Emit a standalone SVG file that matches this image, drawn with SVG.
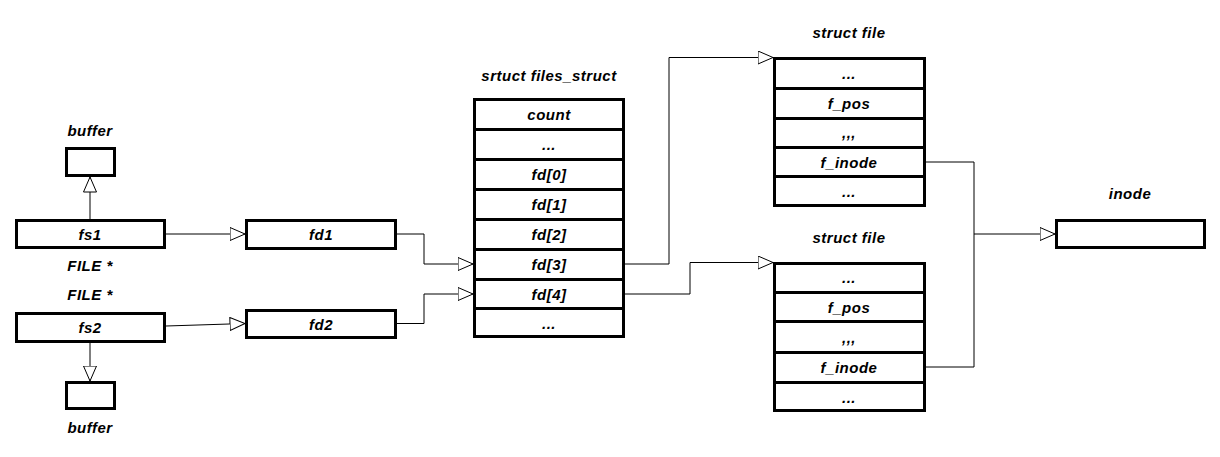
<svg xmlns="http://www.w3.org/2000/svg" width="1220" height="457" viewBox="0 0 1220 457">
<style>
.box{fill:#fff;stroke:#000;stroke-width:3}
.sep{stroke:#000;stroke-width:3}
.t{font-family:"Liberation Sans",Arial,sans-serif;font-size:15px;letter-spacing:0.5px;font-weight:bold;font-style:italic;text-anchor:middle;fill:#000}
.c{fill:none;stroke:#000;stroke-width:1;marker-end:url(#arr)}
</style>
<defs>
<marker id="arr" markerUnits="userSpaceOnUse" markerWidth="17" markerHeight="15" refX="15.5" refY="7" orient="auto">
<path d="M0.5,0.5 L15.5,7 L0.5,13.5 Z" fill="#fff" stroke="#000" stroke-width="1"/>
</marker>
</defs>
<rect width="1220" height="457" fill="#fff"/>
<g id="connectors">
<path class="c" d="M90,219 V177"/>
<path class="c" d="M90,343 V381"/>
<path class="c" d="M166,234 H245"/>
<path class="c" d="M166,326 L245,323.5"/>
<path class="c" d="M397,234 H424 V264 H473"/>
<path class="c" d="M397,323.5 H424 V294 H473"/>
<path class="c" d="M625,264 H669 V57.5 H773"/>
<path class="c" d="M625,294 H690 V262.5 H773"/>
<path fill="none" stroke="#000" stroke-width="1" d="M926,162 H974 V367 H926"/>
<path class="c" d="M974,234 H1055"/>
</g>
<g id="buffer1">
<rect class="box" x="66.5" y="148.5" width="48" height="27"/>
<text class="t" x="90" y="135.5">buffer</text>
</g>
<g id="fs1">
<rect class="box" x="16.5" y="220.5" width="148" height="27"/>
<text class="t" x="90" y="239.5">fs1</text>
<text class="t" x="90" y="270.5">FILE *</text>
</g>
<g id="fs2">
<rect class="box" x="16.5" y="313.5" width="148" height="28"/>
<text class="t" x="90" y="299.5">FILE *</text>
<text class="t" x="90" y="333">fs2</text>
</g>
<g id="buffer2">
<rect class="box" x="66.5" y="382.5" width="48" height="26"/>
<text class="t" x="90" y="432.5">buffer</text>
</g>
<g id="fd1">
<rect class="box" x="246.5" y="220.5" width="149" height="28"/>
<text class="t" x="321" y="240">fd1</text>
</g>
<g id="fd2">
<rect class="box" x="246.5" y="310.5" width="149" height="27"/>
<text class="t" x="321" y="329.5">fd2</text>
</g>
<g id="files_struct">
<text class="t" x="549" y="80.5">srtuct files_struct</text>
<rect class="box" x="474.5" y="99.5" width="149" height="237"/>
<line class="sep" x1="474" y1="129.5" x2="624" y2="129.5"/>
<line class="sep" x1="474" y1="159.5" x2="624" y2="159.5"/>
<line class="sep" x1="474" y1="189.5" x2="624" y2="189.5"/>
<line class="sep" x1="474" y1="219.5" x2="624" y2="219.5"/>
<line class="sep" x1="474" y1="249.5" x2="624" y2="249.5"/>
<line class="sep" x1="474" y1="279.5" x2="624" y2="279.5"/>
<line class="sep" x1="474" y1="308.5" x2="624" y2="308.5"/>
<text class="t" x="549" y="119.5">count</text>
<text class="t" x="549" y="149.5">...</text>
<text class="t" x="549" y="179.5">fd[0]</text>
<text class="t" x="549" y="209.5">fd[1]</text>
<text class="t" x="549" y="239.5">fd[2]</text>
<text class="t" x="549" y="269.5">fd[3]</text>
<text class="t" x="549" y="299.5">fd[4]</text>
<text class="t" x="549" y="328.5">...</text>
</g>
<g id="struct_file_1">
<text class="t" x="849" y="37.5">struct file</text>
<rect class="box" x="774.5" y="58.5" width="150" height="147"/>
<line class="sep" x1="774" y1="88.5" x2="925" y2="88.5"/>
<line class="sep" x1="774" y1="118.5" x2="925" y2="118.5"/>
<line class="sep" x1="774" y1="147.5" x2="925" y2="147.5"/>
<line class="sep" x1="774" y1="176.5" x2="925" y2="176.5"/>
<text class="t" x="849" y="78.5">...</text>
<text class="t" x="849" y="108.5">f_pos</text>
<text class="t" x="849" y="137.5">,,,</text>
<text class="t" x="849" y="167.5">f_inode</text>
<text class="t" x="849" y="197">...</text>
</g>
<g id="struct_file_2">
<text class="t" x="849" y="242.5">struct file</text>
<rect class="box" x="774.5" y="263.5" width="150" height="147"/>
<line class="sep" x1="774" y1="292.5" x2="925" y2="292.5"/>
<line class="sep" x1="774" y1="321.5" x2="925" y2="321.5"/>
<line class="sep" x1="774" y1="352.5" x2="925" y2="352.5"/>
<line class="sep" x1="774" y1="382.5" x2="925" y2="382.5"/>
<text class="t" x="849" y="283">...</text>
<text class="t" x="849" y="312.5">f_pos</text>
<text class="t" x="849" y="342.5">,,,</text>
<text class="t" x="849" y="372.5">f_inode</text>
<text class="t" x="849" y="402.5">...</text>
</g>
<g id="inode">
<text class="t" x="1130" y="198.5">inode</text>
<rect class="box" x="1056.5" y="220.5" width="148" height="27"/>
</g>
</svg>
